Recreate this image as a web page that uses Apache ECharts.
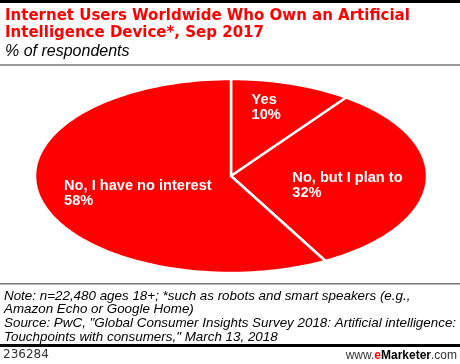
<!DOCTYPE html>
<html>
<head>
<meta charset="utf-8">
<style>
  html, body { margin: 0; padding: 0; background: #fff; }
  #chart { width: 460px; height: 364px; }
</style>
<script src="https://cdn.jsdelivr.net/npm/echarts@6/dist/echarts.min.js"></script>
</head>
<body>
<div id="chart"></div>
<script>
// ---- data ----
const categories = ['Yes', 'No, but I plan to', 'No, I have no interest'];
const values = [10, 32, 58];
const titleLines = ['Internet Users Worldwide Who Own an Artificial', 'Intelligence Device*, Sep 2017'];
const subtitle = '% of respondents';
const noteLines = [
  'Note: n=22,480 ages 18+; *such as robots and smart speakers (e.g.,',
  'Amazon Echo or Google Home)',
  'Source: PwC, "Global Consumer Insights Survey 2018: Artificial intelligence:',
  'Touchpoints with consumers," March 13, 2018'
];
const chartId = '236284';

// ---- style ----
const RED = '#ff0000';
const CX = 231, CY = 176, RX = 196, RY = 97;
const labelOffsets = [[-23, -2], [-56, 6], [-72, 5]];
const labelRadius = [0.72, 0.60, 0.50];

const total = values.reduce((a, b) => a + b, 0);
function ellPt(theta, f) {
  return [CX + RX * f * Math.sin(theta), CY - RY * f * Math.cos(theta)];
}

const chart = echarts.init(document.getElementById('chart'), null, { renderer: 'canvas' });

const option = {
  animation: false,
  backgroundColor: '#fff',
  series: [{
    type: 'custom',
    coordinateSystem: 'none',
    data: values.map((v, i) => ({ value: [v], name: categories[i] })),
    renderItem: function (params, api) {
      const i = params.dataIndex;
      let before = 0;
      for (let k = 0; k < i; k++) before += values[k];
      const a0 = before / total * Math.PI * 2;
      const a1 = (before + api.value(0)) / total * Math.PI * 2;
      const pts = [[CX, CY]];
      const n = 120;
      for (let s = 0; s <= n; s++) {
        pts.push(ellPt(a0 + (a1 - a0) * s / n, 1));
      }
      const mid = (a0 + a1) / 2;
      const lp = ellPt(mid, labelRadius[i]);
      return {
        type: 'group',
        children: [{
          type: 'polygon',
          shape: { points: pts },
          style: { fill: RED, stroke: '#fff', lineWidth: 2.5, lineJoin: 'miter' }
        }, {
          type: 'text',
          z2: 10,
          style: {
            x: lp[0] + labelOffsets[i][0],
            y: lp[1] + labelOffsets[i][1],
            text: categories[i] + '\n' + api.value(0) + '%',
            fill: '#fff',
            font: 'bold 14.6px "Liberation Sans", Arial, sans-serif',
            lineHeight: 15,
            align: 'left',
            verticalAlign: 'middle'
          }
        }]
      };
    }
  }],
  graphic: [
    { type: 'rect', shape: { x: 0, y: 0, width: 460, height: 3 }, style: { fill: '#000' } },
    { type: 'text', style: { x: 5, y: 8, text: titleLines.join('\n'), fill: RED,
      font: 'bold 15px "DejaVu Sans", Verdana, sans-serif', lineHeight: 16.5 } },
    { type: 'text', style: { x: 5, y: 44, text: subtitle, fill: '#000',
      font: 'italic 16px "Liberation Sans", Arial, sans-serif' } },
    { type: 'rect', shape: { x: 0, y: 64, width: 460, height: 2 }, style: { fill: '#999' } },
    { type: 'rect', shape: { x: 0, y: 283, width: 460, height: 1.5 }, style: { fill: '#777' } },
    { type: 'text', style: { x: 4, y: 289, text: noteLines.join('\n'), fill: '#000',
      font: 'italic 13.4px "Liberation Sans", Arial, sans-serif', lineHeight: 13.7 } },
    { type: 'rect', shape: { x: 0, y: 344, width: 460, height: 3 }, style: { fill: '#000' } },
    { type: 'text', style: { x: 3, y: 355, text: chartId, fill: '#333', verticalAlign: 'middle',
      font: '12px "DejaVu Sans", Verdana, sans-serif', letterSpacing: 1.3 } },
    { type: 'text', style: { x: 457, y: 356, align: 'right', verticalAlign: 'middle',
      text: '{a|www.}{b|e}{c|Marketer}{a|.com}',
      rich: {
        a: { fill: '#333', font: '12px "Liberation Sans", Arial, sans-serif' },
        b: { fill: RED, font: 'bold 12px "Liberation Sans", Arial, sans-serif' },
        c: { fill: '#000', font: 'bold 12px "Liberation Sans", Arial, sans-serif' }
      } } }
  ]
};
chart.setOption(option);
</script>
</body>
</html>
